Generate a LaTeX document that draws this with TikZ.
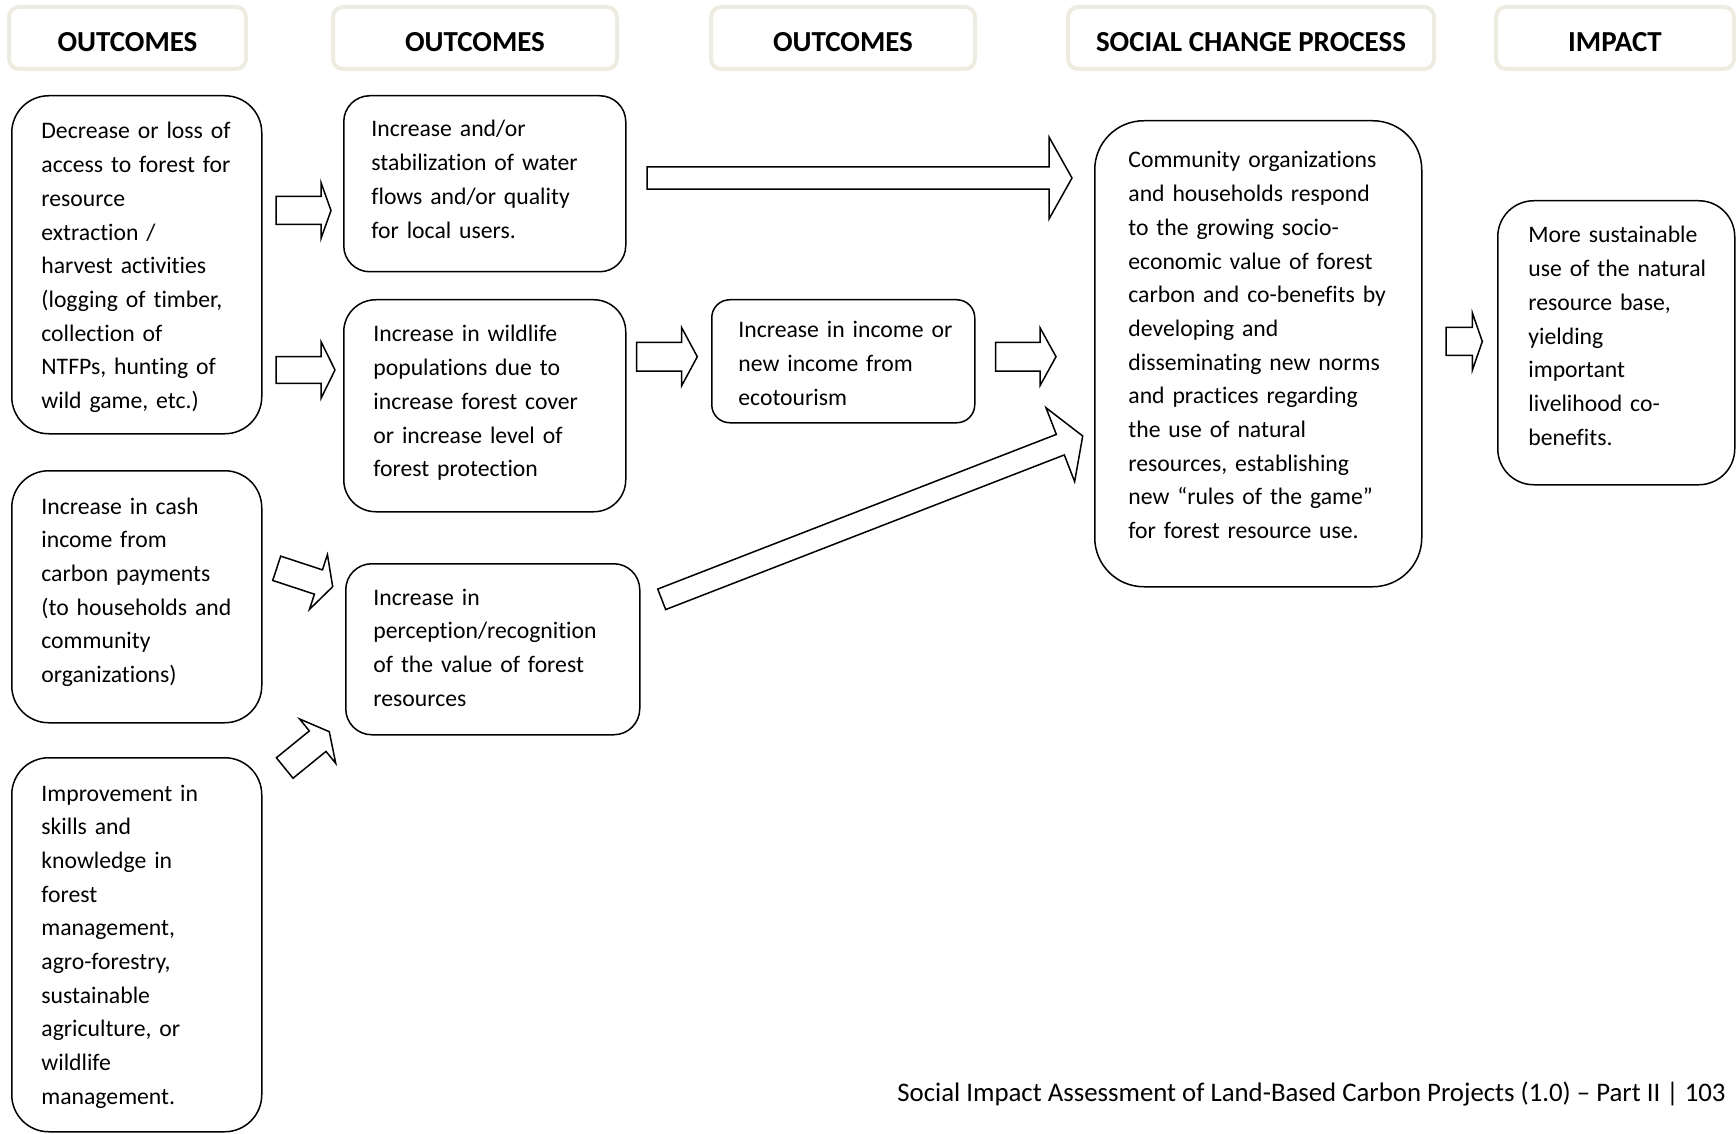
\documentclass[tikz,border=0pt]{standalone}
\usepackage{fontspec}
\setmainfont{Carlito}[Ligatures=NoCommon]
\usetikzlibrary{calc}
\definecolor{headline}{RGB}{238,236,225}
\newcommand{\fatarrow}[5]{%
  \draw[fatline] let \p1=($(#2)-(#1)$), \n1={atan2(\y1,\x1)} in
    ($(#1)+(\n1+90:#3)$) -- ($(#2)!#5!(#1)+(\n1+90:#3)$)
    -- ($(#2)!#5!(#1)+(\n1+90:#4)$) -- (#2)
    -- ($(#2)!#5!(#1)+(\n1-90:#4)$) -- ($(#2)!#5!(#1)+(\n1-90:#3)$)
    -- ($(#1)+(\n1-90:#3)$) -- cycle;}
\tikzset{
  headbox/.style={draw=headline, line width=2pt, rounded corners=5pt, fill=white,
    minimum width=#1, minimum height=31pt, inner sep=0pt,
    font=\fontsize{14.5pt}{17pt}\selectfont\bfseries, text height=14pt, text depth=0pt},
  outbox/.style n args={3}{draw, line width=0.75pt, fill=white, anchor=north west,
    inner sep=0pt, minimum width=#1, minimum height=#2, rounded corners=#3},
  boxtext/.style={anchor=base west, inner sep=0pt, align=left, text width=#1,
    font=\fontsize{11.85pt}{16.85pt}\selectfont},
  fatline/.style={draw, line width=0.75pt, fill=white, line join=miter}
}
\begin{document}
\begin{tikzpicture}[x=0.5pt,y=-0.5pt]
\useasboundingbox (0,0) rectangle (1736,1134);

% column heads
\node[headbox=118.5pt] (h1) at (127.5,38) {OUTCOMES};
\node[headbox=142pt] (h2) at (475,38) {OUTCOMES};
\node[headbox=132pt] (h3) at (843,38) {OUTCOMES};
\node[headbox=183pt] (h4) at (1251,38) {SOCIAL CHANGE PROCESS};
\node[headbox=119pt] (h5) at (1615,38) {IMPACT};

% boxes
\node[outbox={125pt}{169pt}{18.5pt}] (access) at (11,95) {};
\node[outbox={125pt}{126pt}{18.5pt}] (cash) at (11,470) {};
\node[outbox={125pt}{187pt}{18.5pt}] (skills) at (11,757) {};
\node[outbox={141pt}{88pt}{13pt}] (water) at (343,95) {};
\node[outbox={141pt}{106pt}{16pt}] (wildlife) at (343,299) {};
\node[outbox={147pt}{85.5pt}{13pt}] (value) at (345,563) {};
\node[outbox={131.5pt}{61.5pt}{9pt}] (income) at (711,299) {};
\node[outbox={163.5pt}{233pt}{24.5pt}] (social) at (1094,120) {};
\node[outbox={118.5pt}{142pt}{18pt}] (impact) at (1497,200) {};

% texts
\node[boxtext=108pt] (accesst) at ($(access.north west)+(30,44)$)
  {Decrease or loss of\\access to forest for\\resource\\extraction /\\harvest activities\\(logging of timber,\\collection of\\NTFPs, hunting of\\wild game, etc.)};
\node[boxtext=108pt] (casht) at ($(cash.north west)+(30,44)$)
  {Increase in cash\\income from\\carbon payments\\(to households and\\community\\organizations)};
\node[boxtext=108pt] (skillst) at ($(skills.north west)+(30,44)$)
  {Improvement in\\skills and\\knowledge in\\forest\\management,\\agro-forestry,\\sustainable\\agriculture, or\\wildlife\\management.};
\node[boxtext=125pt] (watert) at ($(water.north west)+(28,42)$)
  {Increase and/or\\stabilization of water\\flows and/or quality\\for local users.};
\node[boxtext=125pt] (wildlifet) at ($(wildlife.north west)+(30,43)$)
  {Increase in wildlife\\populations due to\\increase forest cover\\or increase level of\\forest protection};
\node[boxtext=130pt] (valuet) at ($(value.north west)+(28,42)$)
  {Increase in\\perception/recognition\\of the value of forest\\resources};
\node[boxtext=117pt] (incomet) at ($(income.north west)+(27,39)$)
  {Increase in income or\\new income from\\ecotourism};
\node[boxtext=145pt] (socialt) at ($(social.north west)+(34,48)$)
  {Community organizations\\and households respond\\to the growing socio-\\economic value of forest\\carbon and co-benefits by\\developing and\\disseminating new norms\\and practices regarding\\the use of natural\\resources, establishing\\new “rules of the game”\\for forest resource use.};
\node[boxtext=102pt] (impactt) at ($(impact.north west)+(31,43)$)
  {More sustainable\\use of the natural\\resource base,\\yielding\\important\\livelihood co-\\benefits.};

% arrow ends
\coordinate (p1s) at (276,210.5);   \coordinate (p1e) at (331,210.5);
\coordinate (p2s) at (276,370);     \coordinate (p2e) at (335,370);
\coordinate (p3s) at (276.7,568.3); \coordinate (p3e) at (332.7,586.7);
\coordinate (p4s) at (284.7,768);   \coordinate (p4e) at (329.3,731.7);
\coordinate (p5s) at (647,178);     \coordinate (p5e) at (1072,178);
\coordinate (p6s) at (661.7,599.3); \coordinate (p6e) at (1082.7,436);
\coordinate (p7s) at (636.7,356.7); \coordinate (p7e) at (697.3,356.7);
\coordinate (p8s) at (995.7,356.7); \coordinate (p8e) at (1056,356.7);
\coordinate (p9s) at (1446,341.5);  \coordinate (p9e) at (1482.3,341.5);

% arrows
\fatarrow{p1s}{p1e}{7pt}{14pt}{5pt}
\fatarrow{p2s}{p2e}{6.7pt}{14.2pt}{7pt}
\fatarrow{p3s}{p3e}{6.4pt}{14.4pt}{7.5pt}
\fatarrow{p4s}{p4e}{6.6pt}{14.3pt}{7.5pt}
\fatarrow{p5s}{p5e}{5.6pt}{20.5pt}{11.5pt}
\fatarrow{p6s}{p6e}{5.5pt}{19.8pt}{12pt}
\fatarrow{p7s}{p7e}{7.2pt}{14.5pt}{7.8pt}
\fatarrow{p8s}{p8e}{7.2pt}{14.5pt}{8pt}
\fatarrow{p9s}{p9e}{7pt}{14.4pt}{5pt}

% footer
\node[anchor=base east, inner sep=0pt, font=\fontsize{13.4pt}{15pt}\selectfont] (foot) at (1726,1101)
  {Social Impact Assessment of Land-Based Carbon Projects (1.0) – Part II | 103};
\end{tikzpicture}
\end{document}
